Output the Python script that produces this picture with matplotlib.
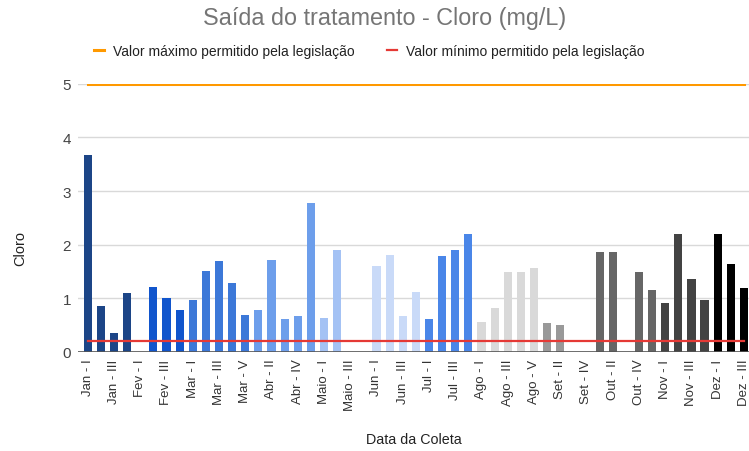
import matplotlib
matplotlib.use('Agg')
import matplotlib.pyplot as plt
import numpy as np

plt.rcParams['font.family'] = ['Liberation Sans', 'DejaVu Sans']

# coletas (semanas de cada mês)
coletas = ['Jan - I', 'Jan - II', 'Jan - III', 'Jan - IV',
           'Fev - I', 'Fev - II', 'Fev - III', 'Fev - IV',
           'Mar - I', 'Mar - II', 'Mar - III', 'Mar - IV', 'Mar - V',
           'Abr - I', 'Abr - II', 'Abr - III', 'Abr - IV', 'Abr - V',
           'Maio - I', 'Maio - II', 'Maio - III', 'Maio - IV',
           'Jun - I', 'Jun - II', 'Jun - III', 'Jun - IV',
           'Jul - I', 'Jul - II', 'Jul - III', 'Jul - IV',
           'Ago - I', 'Ago - II', 'Ago - III', 'Ago - IV', 'Ago - V',
           'Set - I', 'Set - II', 'Set - III', 'Set - IV',
           'Out - I', 'Out - II', 'Out - III', 'Out - IV', 'Out - V',
           'Nov - I', 'Nov - II', 'Nov - III', 'Nov - IV',
           'Dez - I', 'Dez - II', 'Dez - III']

nan = np.nan
cloro = [3.68, 0.85, 0.35, 1.09,
         nan, 1.20, 1.00, 0.78,
         0.96, 1.50, 1.69, 1.28, 0.68,
         0.78, 1.72, 0.61, 0.67, 2.78,
         0.63, 1.89, nan, nan,
         1.59, 1.80, 0.67, 1.11,
         0.61, 1.78, 1.90, 2.20,
         0.55, 0.81, 1.48, 1.48, 1.56,
         0.53, 0.50, nan, nan,
         1.86, 1.86, nan, 1.48, 1.15,
         0.91, 2.20, 1.35, 0.96,
         2.20, 1.63, 1.19]

# cor por mês
cores_mes = {'Jan': '#1c4587', 'Fev': '#1155cc', 'Mar': '#3c78d8', 'Abr': '#6d9eeb',
             'Maio': '#a4c2f4', 'Jun': '#c9daf8', 'Jul': '#4a86e8', 'Ago': '#d9d9d9',
             'Set': '#999999', 'Out': '#666666', 'Nov': '#434343', 'Dez': '#000000'}

valor_max = 5.0
valor_min = 0.2

fig = plt.figure(figsize=(7.49, 4.52), dpi=100)
ax = fig.add_axes([0.104, 0.22, 0.898, 0.592])

x = np.arange(len(coletas))
cores = [cores_mes[c.split(' - ')[0]] for c in coletas]
ax.bar(x, cloro, width=0.62, color=cores, zorder=2)

l1, = ax.plot([x[0], x[-1]], [valor_max] * 2, color='#ff9900', linewidth=2.2, zorder=3)
l2, = ax.plot([x[0], x[-1]], [valor_min] * 2, color='#e53935', linewidth=1.6, zorder=3)

ax.set_xlim(-0.75, len(coletas) - 0.5)
ax.set_ylim(0, 5)
ax.set_yticks([0, 1, 2, 3, 4, 5])
ax.grid(axis='y', color='#d9d9d9', linewidth=1, zorder=0)
ax.axhline(0, color='#555555', linewidth=1.2, zorder=4)

for s in ax.spines.values():
    s.set_visible(False)

ax.set_xticks(x[::2])
ax.set_xticklabels(coletas[::2], rotation=90, fontsize=9.5, color='#333333')
ax.tick_params(axis='both', length=0)
ax.tick_params(axis='y', labelsize=11, colors='#444444', pad=5)
ax.tick_params(axis='x', pad=5)

ax.set_ylabel('Cloro', fontsize=10.5, color='#222222')
ax.yaxis.set_label_coords(-0.075, 0.39)
ax.set_xlabel('Data da Coleta', fontsize=10.3, color='#222222', labelpad=16)

fig.text(0.514, 0.96, 'Saída do tratamento - Cloro (mg/L)', ha='center', va='center',
         fontsize=16.8, color='#757575')

fig.legend([l1, l2], ['Valor máximo permitido pela legislação',
                      'Valor mínimo permitido pela legislação'],
           loc='center', bbox_to_anchor=(0.493, 0.885), ncol=2, frameon=False,
           fontsize=10, handlelength=0.7, handletextpad=0.7, columnspacing=2.3,
           labelcolor='#222222')

fig.savefig('out.png', dpi=100)
